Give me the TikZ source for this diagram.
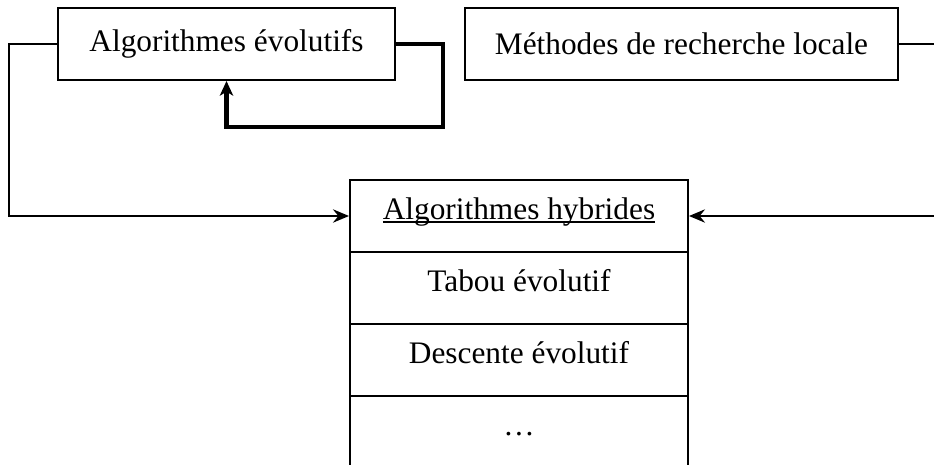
\documentclass[tikz,border=0pt]{standalone}
\usepackage{fontspec}
\setmainfont{Liberation Serif}
\usetikzlibrary{positioning,arrows.meta}

% underline close to the baseline
\newcommand\ulbase[1]{\setbox0\hbox{#1}\rlap{\rule[-3pt]{\wd0}{1.3pt}}\box0}

\begin{document}
\begin{tikzpicture}
    [x=0.75pt,y=-0.75pt
    ,every node/.style={font=\fontsize{23.5}{28}\selectfont}
    ,box/.style={draw,line width=1.5pt,minimum height=54pt,inner sep=0pt}
    ,row/.style={box,minimum width=253.5pt,text height=16.5pt,text depth=12pt}
    ,>={Stealth[length=12pt,width=10pt,inset=4pt]}
    ,line width=1.5pt
    ]

    \useasboundingbox (0,0) rectangle (934,464);
    \clip (0,0) rectangle (934,464);

    \node[box,minimum width=252.75pt] (evo) at (226.5,44) {Algorithmes évolutifs};
    \node[box,minimum width=324.75pt] (loc) at (681.5,44) {Méthodes de recherche locale};

    \node[row] (hyb) at (519,216) {\ulbase{Algorithmes hybrides}};
    \node[row,below=-1.5pt of hyb] (tab) {Tabou évolutif};
    \node[row,below=-1.5pt of tab] (desc) {Descente évolutif};
    \node[row,below=-1.5pt of desc] (etc) {\dots};

    \draw [->] (evo.west) -- ++ (-48,0) |- (hyb.west);
    \draw [->] (loc.east) -- ++ (44,0) |- (hyb.east);

    \draw [-{Stealth[length=11pt,width=10pt,inset=3pt]},line width=3.5pt]
        (evo.east) -- ++ (47,0) -- ++ (0,83) -| (evo.south);

\end{tikzpicture}
\end{document}
